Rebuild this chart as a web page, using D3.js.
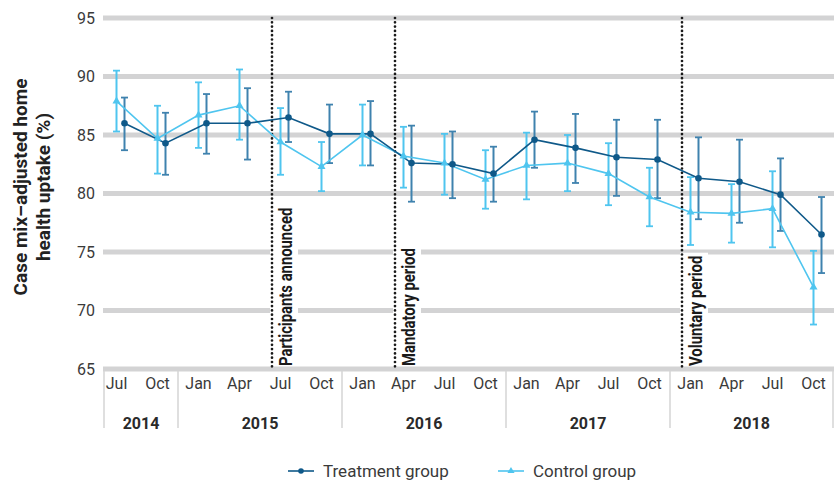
<!DOCTYPE html>
<html>
<head>
<meta charset="utf-8">
<script src="https://cdn.jsdelivr.net/npm/d3@7"></script>
<style>
  body { margin: 0; background: #fff; }
  text { font-family: Roboto, "Noto Sans", sans-serif; }
</style>
</head>
<body>
<div id="chart"></div>
<script>
// quarters on the x axis
var periods = ["2014 Jul", "2014 Oct",
  "2015 Jan", "2015 Apr", "2015 Jul", "2015 Oct",
  "2016 Jan", "2016 Apr", "2016 Jul", "2016 Oct",
  "2017 Jan", "2017 Apr", "2017 Jul", "2017 Oct",
  "2018 Jan", "2018 Apr", "2018 Jul", "2018 Oct"];
var years = ["2014", "2015", "2016", "2017", "2018"];
var yTicks = [65, 70, 75, 80, 85, 90, 95];

// treatment group (mean, lower, upper)
var treatment = [86.0, 84.3, 86.0, 86.0, 86.5, 85.1, 85.1, 82.6, 82.5, 81.7, 84.6, 83.9, 83.1, 82.9, 81.3, 81.0, 79.9, 76.5];
var treatLo = [83.7, 81.6, 83.4, 82.9, 84.4, 82.6, 82.4, 79.3, 79.6, 79.3, 82.2, 80.9, 79.8, 79.6, 77.8, 77.5, 76.8, 73.2];
var treatHi = [88.2, 86.9, 88.5, 89.0, 88.7, 87.6, 87.9, 85.8, 85.3, 84.0, 87.0, 86.8, 86.3, 86.3, 84.8, 84.6, 83.0, 79.7];

// control group
var control = [87.9, 84.7, 86.7, 87.5, 84.4, 82.3, 85.0, 83.2, 82.6, 81.2, 82.4, 82.6, 81.7, 79.7, 78.4, 78.3, 78.7, 72.0];
var ctrlLo = [85.3, 81.7, 83.9, 84.6, 81.6, 80.2, 82.4, 80.5, 79.9, 78.7, 79.5, 80.2, 79.0, 77.2, 75.6, 75.8, 75.4, 68.8];
var ctrlHi = [90.5, 87.5, 89.5, 90.6, 87.3, 84.4, 87.6, 85.7, 85.1, 83.7, 85.2, 85.0, 84.3, 82.2, 81.4, 80.8, 81.9, 75.1];

// policy events
var eventPeriods = ["2015 Jul", "2016 Apr", "2018 Jan"];
var eventLabels = ["Participants announced", "Mandatory period", "Voluntary period"];

var width = 839, height = 482;
var plotLeft = 103, plotRight = 834, plotTop = 18, plotBottom = 369;

var svg = d3.select("#chart").append("svg")
  .attr("width", width)
  .attr("height", height);

var x = d3.scaleBand()
  .domain(periods)
  .range([96, 834]);

var y = d3.scaleLinear()
  .domain([65, 95])
  .range([plotBottom, plotTop]);

var mid = function(p) { return x(p) + x.bandwidth() / 2; };
var offT = 8; // treatment points sit right of the control ones

// gridlines
svg.append("g").selectAll("line")
  .data(yTicks)
  .enter().append("line")
  .attr("x1", plotLeft).attr("x2", plotRight)
  .attr("y1", d => y(d)).attr("y2", d => y(d))
  .attr("stroke", "#d3d3d4")
  .attr("stroke-width", 5);

// y axis labels
var yAxis = d3.axisLeft(y).tickValues(yTicks).tickSize(0).tickPadding(8);
var ya = svg.append("g")
  .attr("transform", "translate(" + plotLeft + ",0)")
  .call(yAxis);
ya.select(".domain").remove();
ya.selectAll("text")
  .attr("font-size", 16)
  .attr("fill", "#3a3a3a")
  .style("font-family", "Roboto, sans-serif");

// y axis title
var yt = svg.append("text")
  .attr("transform", "translate(0,187) rotate(-90)")
  .attr("text-anchor", "middle")
  .attr("font-weight", "bold")
  .attr("font-size", 19)
  .attr("fill", "#222");
yt.append("tspan").attr("x", 0).attr("y", 27).text("Case mix\u2013adjusted home");
yt.append("tspan").attr("x", 0).attr("y", 50).text("health uptake (%)");

// x axis: quarter labels
var xAxis = d3.axisBottom(x)
  .tickSize(0)
  .tickPadding(0)
  .tickFormat(d => d.split(" ")[1]);
var xa = svg.append("g")
  .attr("transform", "translate(0," + 378 + ")")
  .call(xAxis);
xa.select(".domain").remove();
xa.selectAll("text")
  .attr("dy", "0.71em")
  .attr("font-size", 16)
  .attr("fill", "#3a3a3a")
  .style("font-family", "Roboto, sans-serif");

// year separators and labels
var yearStart = years.map(function(yr) {
  var first = periods.find(p => p.indexOf(yr) === 0);
  return Math.max(plotLeft + 1, x(first));
});
var seps = yearStart.concat([plotRight - 1]);
svg.append("g").selectAll("line")
  .data(seps)
  .enter().append("line")
  .attr("x1", d => d).attr("x2", d => d)
  .attr("y1", plotBottom + 2).attr("y2", 428)
  .attr("stroke", "#d4d4d4")
  .attr("stroke-width", 1.5);

svg.append("g").selectAll("text")
  .data(years)
  .enter().append("text")
  .attr("x", (d, i) => (seps[i] + seps[i + 1]) / 2)
  .attr("y", 429)
  .attr("text-anchor", "middle")
  .attr("font-size", 16)
  .attr("font-weight", "bold")
  .attr("fill", "#2a2a2a")
  .text(d => d);

// event markers
var ev = svg.append("g").selectAll("g")
  .data(eventPeriods)
  .enter().append("g")
  .attr("transform", d => "translate(" + (mid(d) - 8.5) + ",0)");

var evBg = ev.append("rect")
  .attr("fill", "#fff");

ev.append("line")
  .attr("x1", 0).attr("x2", 0)
  .attr("y1", plotTop).attr("y2", plotBottom)
  .attr("stroke", "#1a1a1a")
  .attr("stroke-width", 2.7)
  .attr("stroke-linecap", "round")
  .attr("stroke-dasharray", "0,4.3");

var evText = ev.append("text")
  .attr("transform", "translate(20," + 366 + ") rotate(-90)")
  .attr("font-size", 19)
  .attr("font-weight", "bold")
  .attr("fill", "#1a1a1a")
  .text((d, i) => eventLabels[i]);

var evW = [];
evText.each(function() {
  var w = this.getComputedTextLength() * 0.78;
  evW.push(w);
  d3.select(this).attr("textLength", w).attr("lengthAdjust", "spacingAndGlyphs");
});
evBg.each(function(d, i) {
  d3.select(this)
    .attr("x", -2).attr("width", 28)
    .attr("y", 366 - evW[i] - 3).attr("height", evW[i] + 1);
});

// error bars
function errorBars(lo, hi, dx, color) {
  var g = svg.append("g");
  var cap = 3.5;
  var data = periods.map((p, i) => ({ p: p, lo: lo[i], hi: hi[i] }));
  g.selectAll(".v").data(data).enter().append("line")
    .attr("x1", d => mid(d.p) + dx).attr("x2", d => mid(d.p) + dx)
    .attr("y1", d => y(d.lo)).attr("y2", d => y(d.hi))
    .attr("stroke", color).attr("stroke-width", 2);
  g.selectAll(".t").data(data).enter().append("line")
    .attr("x1", d => mid(d.p) + dx - cap).attr("x2", d => mid(d.p) + dx + cap)
    .attr("y1", d => y(d.hi)).attr("y2", d => y(d.hi))
    .attr("stroke", color).attr("stroke-width", 1.8);
  g.selectAll(".b").data(data).enter().append("line")
    .attr("x1", d => mid(d.p) + dx - cap).attr("x2", d => mid(d.p) + dx + cap)
    .attr("y1", d => y(d.lo)).attr("y2", d => y(d.lo))
    .attr("stroke", color).attr("stroke-width", 1.8);
}

var darkBlue = "#0f5989";
var darkBar = "#3f82ae";
var lightBlue = "#4fc5ef";

errorBars(ctrlLo, ctrlHi, 0, lightBlue);
errorBars(treatLo, treatHi, offT, darkBar);

// lines
var line = function(dx) {
  return d3.line()
    .x((d, i) => mid(periods[i]) + dx)
    .y(d => y(d));
};

svg.append("path")
  .datum(control)
  .attr("d", line(0))
  .attr("fill", "none")
  .attr("stroke", lightBlue)
  .attr("stroke-width", 1.6);

svg.append("path")
  .datum(treatment)
  .attr("d", line(offT))
  .attr("fill", "none")
  .attr("stroke", darkBlue)
  .attr("stroke-width", 1.6);

// markers
var tri = d3.symbol().type(d3.symbolTriangle).size(28);
svg.append("g").selectAll("path")
  .data(control)
  .enter().append("path")
  .attr("d", tri)
  .attr("transform", (d, i) => "translate(" + mid(periods[i]) + "," + y(d) + ")")
  .attr("fill", lightBlue);

svg.append("g").selectAll("circle")
  .data(treatment)
  .enter().append("circle")
  .attr("cx", (d, i) => mid(periods[i]) + offT)
  .attr("cy", d => y(d))
  .attr("r", 3.3)
  .attr("fill", darkBlue);

// legend
var legendItems = [
  { name: "Treatment group", color: darkBlue, x: 288, shape: "circle" },
  { name: "Control group", color: lightBlue, x: 498, shape: "tri" }
];
var lg = svg.append("g").selectAll("g")
  .data(legendItems)
  .enter().append("g")
  .attr("transform", d => "translate(" + d.x + ",471)");
lg.append("line")
  .attr("x1", 0).attr("x2", 26)
  .attr("stroke", d => d.color)
  .attr("stroke-width", 1.6);
lg.each(function(d) {
  var g = d3.select(this);
  if (d.shape == "circle") {
    g.append("circle").attr("cx", 13).attr("r", 2.8).attr("fill", d.color);
  } else {
    g.append("path").attr("d", d3.symbol().type(d3.symbolTriangle).size(22))
      .attr("transform", "translate(13,0)").attr("fill", d.color);
  }
});
lg.append("text")
  .attr("x", 35)
  .attr("dy", "0.35em")
  .attr("font-size", 17)
  .attr("fill", "#3a3a3a")
  .text(d => d.name);
</script>
</body>
</html>
